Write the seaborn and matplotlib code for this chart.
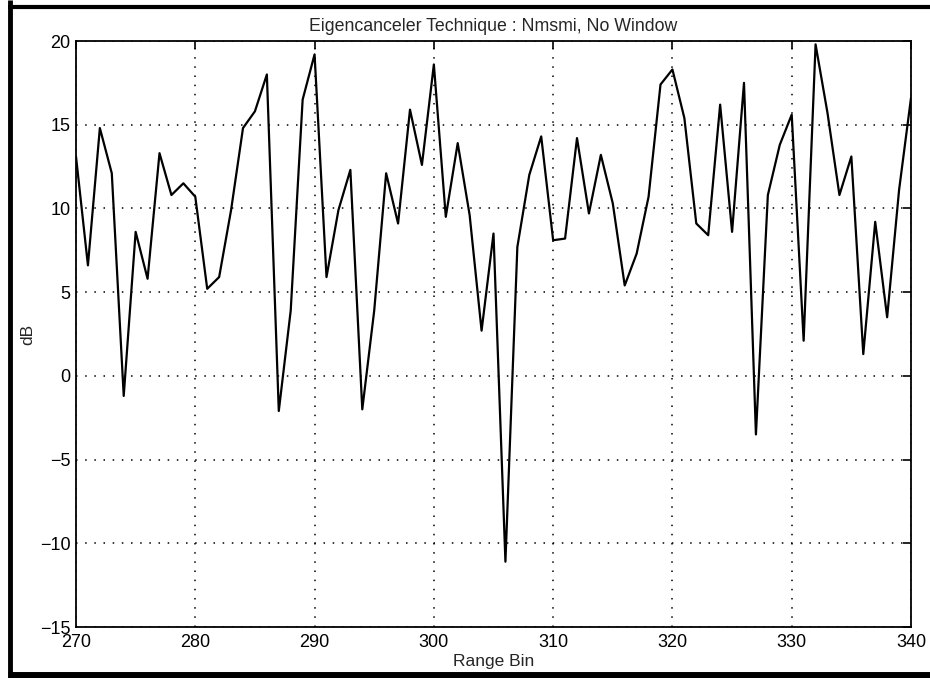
import matplotlib
matplotlib.use("Agg")
import matplotlib.pyplot as plt
import pandas as pd
import seaborn as sns
from matplotlib.lines import Line2D

# Range bins and canceller output (dB)
range_bins = list(range(270, 341))
db_values = [
    13.1, 6.6, 14.8, 12.1, -1.2, 8.6, 5.8, 13.3, 10.8, 11.5,
    10.7, 5.2, 5.9, 9.9, 14.8, 15.8, 18.0, -2.1, 3.9, 16.5,
    19.2, 5.9, 9.9, 12.3, -2.0, 3.9, 12.1, 9.1, 15.9, 12.6,
    18.6, 9.5, 13.9, 9.6, 2.7, 8.5, -11.1, 7.7, 12.0, 14.3,
    8.1, 8.2, 14.2, 9.7, 13.2, 10.3, 5.4, 7.3, 10.7, 17.4,
    18.3, 15.4, 9.1, 8.4, 16.2, 8.6, 17.5, -3.5, 10.8, 13.8,
    15.6, 2.1, 19.8, 15.7, 10.8, 13.1, 1.3, 9.2, 3.5, 11.1,
    16.6,
]
x_ticks = [270, 280, 290, 300, 310, 320, 330, 340]
y_ticks = [-15, -10, -5, 0, 5, 10, 15, 20]

title_text = "Eigencanceler Technique : Nmsmi, No Window"
x_label = "Range Bin"
y_label = "dB"

sns.set_style("white")
plt.rcParams["font.family"] = ["Liberation Sans", "DejaVu Sans"]

W, H = 930, 678
fig = plt.figure(figsize=(W / 100, H / 100), dpi=100)
left, right, top, bottom = 76, 911, 41, 627
ax = fig.add_axes([left / W, 1 - bottom / H, (right - left) / W, (bottom - top) / H])

df = pd.DataFrame({"bin": range_bins, "db": db_values})
sns.lineplot(data=df, x="bin", y="db", ax=ax, color="black", linewidth=1.6, zorder=3)

ax.set_xlim(270, 340)
ax.set_ylim(-15, 20)
ax.set_xticks(x_ticks)
ax.set_yticks(y_ticks)
ax.set_xticklabels([str(v) for v in x_ticks])
ax.set_yticklabels([str(v).replace("-", "\u2212") for v in y_ticks])

ax.grid(True, color="black", linestyle=(0, (1, 5)), linewidth=1.1)
for s in ax.spines.values():
    s.set_color("black")
    s.set_linewidth(1.3)
    s.set_visible(True)

ax.tick_params(direction="in", length=6, width=1.2, top=True, right=True,
               labelsize=13, colors="black")
ax.tick_params(axis="x", pad=5)
ax.tick_params(axis="y", pad=4)
ax.set_title(title_text, fontsize=12.8, pad=7)
ax.set_xlabel(x_label, fontsize=12.5, labelpad=2)
ax.set_ylabel(y_label, fontsize=12.5, labelpad=3)

# Page frame lines around the figure
def px_line(x0, y0, x1, y1, lw):
    fig.add_artist(Line2D([x0 / W, x1 / W], [1 - y0 / H, 1 - y1 / H],
                          color="black", linewidth=lw, transform=fig.transFigure,
                          solid_capstyle="butt"))

px_line(10, 0, 10, H, 3.5)
px_line(8, 7, W, 7, 3.0)
px_line(8, 675, W, 675, 5.0)

fig.savefig("out.png", dpi=100, facecolor="white")
